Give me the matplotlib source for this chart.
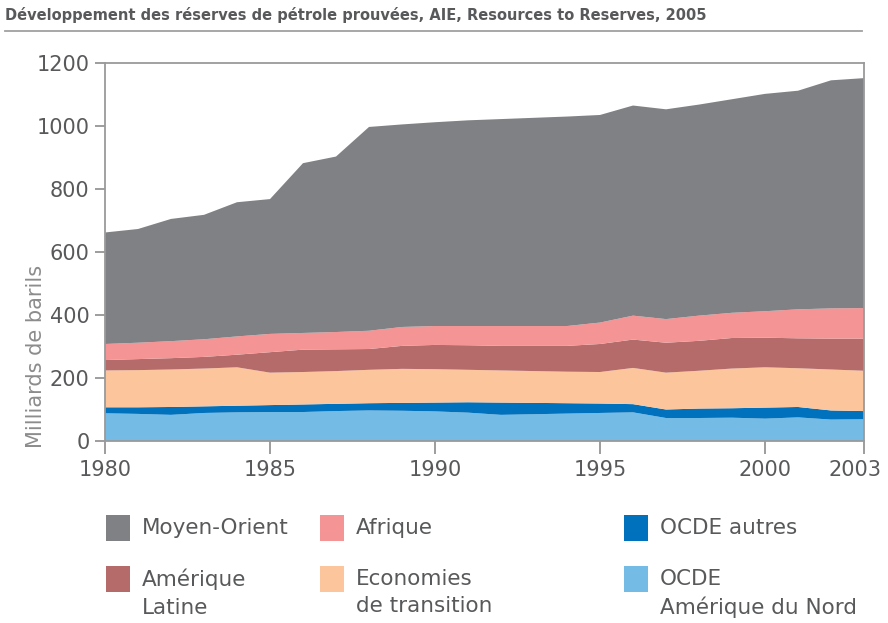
import matplotlib
matplotlib.use("Agg")
import matplotlib.pyplot as plt
from matplotlib.patches import Rectangle
from matplotlib.lines import Line2D
from matplotlib.transforms import ScaledTranslation

# ---------------- data (milliards de barils) ----------------
years = list(range(1980, 2004))

ocde_amerique_nord = [88, 86, 83, 89, 91, 92, 92, 95, 97, 96, 94, 90,
                      83, 85, 87, 89, 91, 73, 73, 74, 71, 75, 68, 69]
ocde_autres = [19, 21, 25, 21, 21, 22, 24, 23, 23, 25, 28, 33,
               39, 36, 33, 30, 26, 27, 30, 30, 35, 33, 29, 26]
economies_transition = [117, 118, 119, 120, 122, 103, 103, 104, 106, 108, 106, 103,
                        102, 101, 100, 100, 115, 117, 120, 126, 128, 123, 130, 128]
amerique_latine = [33, 35, 36, 37, 40, 65, 71, 69, 66, 73, 77, 78,
                   78, 80, 82, 89, 90, 95, 95, 97, 94, 95, 98, 102]
afrique = [51, 52, 54, 56, 58, 58, 53, 55, 58, 60, 60, 61,
           63, 63, 63, 68, 76, 75, 80, 80, 84, 92, 96, 97]
moyen_orient = [354, 361, 388, 395, 426, 428, 539, 557, 647, 643, 647, 653,
                657, 661, 665, 659, 667, 666, 670, 678, 690, 694, 724, 730]

series_labels = ["OCDE\nAmérique du Nord", "OCDE autres", "Economies\nde transition",
                 "Amérique\nLatine", "Afrique", "Moyen-Orient"]
series_colors = ["#74bbe6", "#0071bc", "#fcc59b", "#b56b6a", "#f49494", "#808184"]

x_ticks = [1980, 1985, 1990, 1995, 2000, 2003]
y_ticks = [0, 200, 400, 600, 800, 1000, 1200]

title = "Développement des réserves de pétrole prouvées, AIE, Resources to Reserves, 2005"
y_label = "Milliards de barils"

# ---------------- figure ----------------
W, H = 888, 623
fig = plt.figure(figsize=(W / 100, H / 100), dpi=100)
text_col = "#58595b"

ax = fig.add_axes([105 / W, 1 - 441 / H, 759 / W, 378 / H])
ax.stackplot(years, ocde_amerique_nord, ocde_autres, economies_transition,
             amerique_latine, afrique, moyen_orient,
             colors=series_colors, linewidth=0)
ax.set_xlim(1980, 2003)
ax.set_ylim(0, 1200)
ax.set_xticks(x_ticks)
ax.set_yticks(y_ticks)
ax.tick_params(axis="both", direction="out", width=1.2, color="#8c8c8c",
               labelsize=15, labelcolor=text_col)
ax.tick_params(axis="y", length=7, pad=4)
ax.tick_params(axis="x", length=9, pad=5)
for s in ax.spines.values():
    s.set_color("#9a9a9a")
    s.set_linewidth(1.3)

# keep the last x label inside the picture
last_lbl = ax.get_xticklabels()[-1]
last_lbl.set_transform(last_lbl.get_transform() +
                       ScaledTranslation(-9 / 100, 0, fig.dpi_scale_trans))

fig.text(36 / W, 1 - 356 / H, y_label, rotation=90, ha="center", va="center",
         fontsize=15, color="#8c8c8c")

# title + rule
fig.text(5 / W, 1 - 15 / H, title, ha="left", va="center", fontsize=10.5,
         fontweight="bold", color=text_col)
fig.add_artist(Line2D([5 / W, 862 / W], [1 - 31 / H, 1 - 31 / H],
                      transform=fig.transFigure, color="#a0a0a0", lw=1.3))

# legend (manual, 3 columns x 2 rows)
legend_items = [
    (0, 0, 5), (1, 0, 4), (2, 0, 1),
    (0, 1, 3), (1, 1, 2), (2, 1, 0),
]
col_x = [106, 320, 624]
row_top = [515, 566]
for col, row, idx in legend_items:
    x0 = col_x[col]
    y0 = row_top[row]
    fig.add_artist(Rectangle((x0 / W, 1 - (y0 + 26) / H), 24 / W, 26 / H,
                             transform=fig.transFigure, facecolor=series_colors[idx],
                             edgecolor="none"))
    fig.text((x0 + 36) / W, 1 - (y0 + 3) / H, series_labels[idx], ha="left", va="top",
             fontsize=15.5, color=text_col, linespacing=1.45)

fig.savefig("out.png", dpi=100)
